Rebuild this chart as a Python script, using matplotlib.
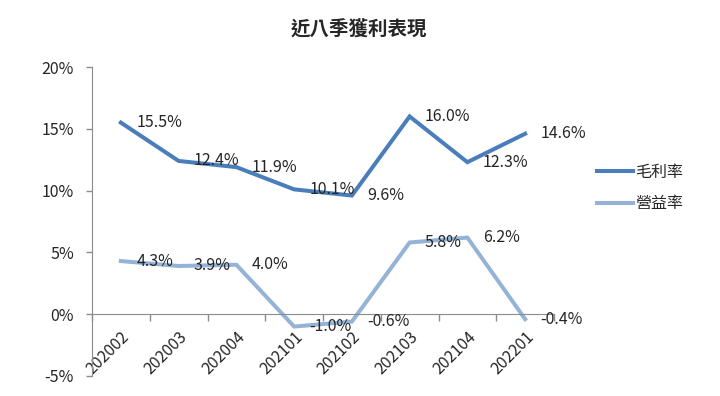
import matplotlib
matplotlib.use("Agg")
import matplotlib.pyplot as plt
from matplotlib.ticker import FixedLocator, FuncFormatter

plt.rcParams['font.family'] = ['Noto Sans CJK TC', 'DejaVu Sans']

title = "近八季獲利表現"
categories = ["202002", "202003", "202004", "202101", "202102", "202103", "202104", "202201"]
gross_margin = [15.5, 12.4, 11.9, 10.1, 9.6, 16.0, 12.3, 14.6]
operating_margin = [4.3, 3.9, 4.0, -1.0, -0.6, 5.8, 6.2, -0.4]
series_names = ["毛利率", "營益率"]
yticks = [-5, 0, 5, 10, 15, 20]

dark = "#4A7EBB"
light = "#95B3D7"
text_c = "#262626"
axis_c = "#8C8C8C"

fig = plt.figure(figsize=(7.2, 3.96), dpi=100)
ax = fig.add_axes([92/720, 1-376/396, (554-92)/720, (376-67)/396])

for s in ['top', 'right']:
    ax.spines[s].set_visible(False)
ax.spines['bottom'].set_position(('data', 0))
ax.spines['bottom'].set_color(axis_c)
ax.spines['left'].set_color(axis_c)

x = list(range(len(categories)))
l1, = ax.plot(x, gross_margin, color=dark, lw=2.9, solid_joinstyle='miter', label=series_names[0])
l2, = ax.plot(x, operating_margin, color=light, lw=2.9, solid_joinstyle='miter', label=series_names[1])

for xi, v in zip(x, gross_margin):
    ax.annotate(f"{v:.1f}%", (xi, v), xytext=(11, 0), textcoords='offset points',
                ha='left', va='center', fontsize=11.5, color=text_c)
for xi, v in zip(x, operating_margin):
    ax.annotate(f"{v:.1f}%", (xi, v), xytext=(11, 0), textcoords='offset points',
                ha='left', va='center', fontsize=11.5, color=text_c)

ax.set_xlim(-0.5, len(categories) - 0.5)
ax.set_ylim(yticks[0], yticks[-1])
ax.yaxis.set_major_locator(FixedLocator(yticks))
ax.yaxis.set_major_formatter(FuncFormatter(lambda v, p: f"{v:.0f}%"))

ax.set_xticks([i - 0.5 for i in range(len(categories) + 1)], minor=True)
ax.tick_params(axis='x', which='major', length=0, pad=10, labelsize=11.5, colors=text_c)
ax.tick_params(axis='x', which='minor', length=5, direction='out', color=axis_c, width=1)
ax.tick_params(axis='y', length=4, width=1, color=axis_c, pad=9, labelsize=11.5, labelcolor=text_c)
ax.set_xticks(x)
ax.set_xticklabels(categories, rotation=45, ha='right', va='top', rotation_mode='anchor')

fig.text(359/720, 1-30/396, title, ha='center', va='center', fontsize=14, fontweight='bold', color=text_c)

fig.legend(handles=[l1, l2], loc='center left', bbox_to_anchor=(583/720, 1-188/396),
           frameon=False, fontsize=11.5, handlelength=2.2, handletextpad=0.15, labelspacing=0.9,
           labelcolor=text_c)

fig.savefig("out.png", dpi=100)
